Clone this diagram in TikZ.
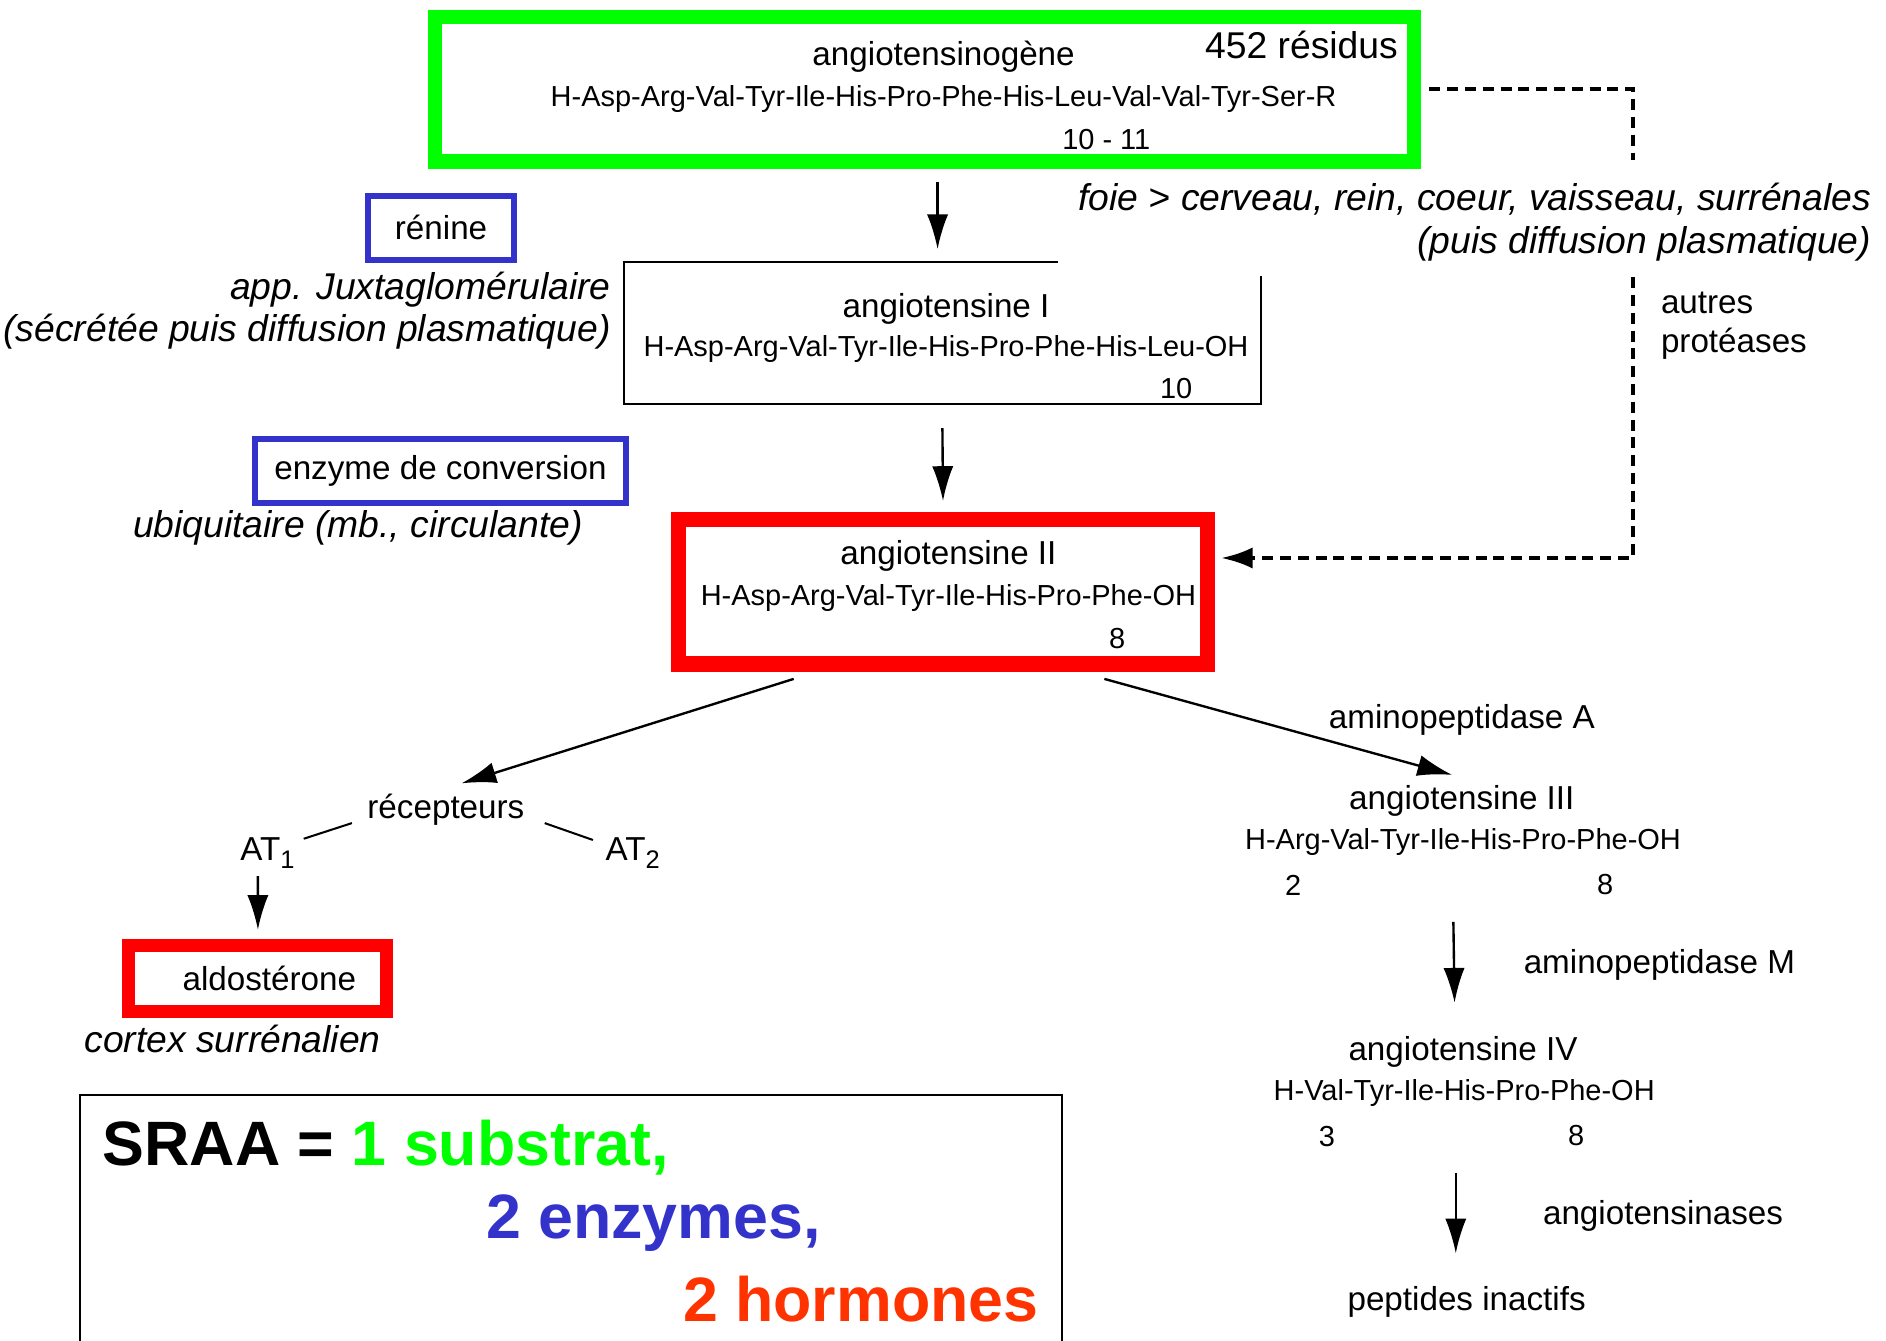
\documentclass[tikz,border=0pt]{standalone}
\usepackage{fontspec}
\setmainfont{Liberation Sans}
\usetikzlibrary{arrows.meta}
\definecolor{vert}{RGB}{0,255,0}
\definecolor{bleu}{RGB}{51,51,204}
\definecolor{rouge}{RGB}{255,0,0}
\definecolor{orangerouge}{RGB}{255,51,0}
\newcommand{\sousind}[1]{\raisebox{-0.45ex}{\fontsize{15}{15}\selectfont #1}}
\tikzset{
  ttl/.style={inner sep=0pt,font=\fontsize{19.6}{23}\selectfont},
  seq/.style={inner sep=0pt,font=\fontsize{17.1}{20}\selectfont},
  note/.style={inner sep=0pt,font=\fontsize{22}{26}\selectfont\itshape},
  big/.style={inner sep=0pt,font=\fontsize{37}{44}\selectfont\bfseries},
  arr/.style={line width=1.4pt,-{Latex[length=0.72cm,width=0.44cm]}},
  thinline/.style={line width=1.2pt},
  dashline/.style={line width=2.4pt,dash pattern=on 6.5pt off 4pt},
  greenbox/.style={draw=vert,line width=8.5pt},
  bluebox/.style={draw=bleu,line width=3.5pt},
  redbox/.style={draw=rouge,line width=9pt}}
\begin{document}
\begin{tikzpicture}[x=0.025cm,y=-0.025cm]
  \useasboundingbox (0,0) rectangle (1565,1112);
  % substrat
  \node[greenbox,minimum width=20.3cm,minimum height=3cm] (agt) at (767,74) {};
  \node[ttl] (agtname) at (783,47) {angiotensinogène};
  \node[ttl,font=\fontsize{22}{26}\selectfont] (res) at (1080,37) {452 résidus};
  \node[seq] (agtseq) at (783,82) {H-Asp-Arg-Val-Tyr-Ile-His-Pro-Phe-His-Leu-Val-Val-Tyr-Ser-R};
  \node[seq] (agtcut) at (918,116) {10 - 11};
  \node[note,anchor=east] (foie) at (1553,165) {foie > cerveau, rein, coeur, vaisseau, surrénales};
  \node[note,anchor=east] (puis) at (1553,202) {(puis diffusion plasmatique)};
  \node[ttl,anchor=west] (autres) at (1378,251) {autres};
  \node[ttl,anchor=west] (prot) at (1378,285) {protéases};
  % enzymes
  \node[bluebox,ttl,minimum width=3.025cm,minimum height=1.325cm] (ren) at (366,189) {rénine};
  \node[note,anchor=east] (juxta) at (507,240) {app. Juxtaglomérulaire};
  \node[note,anchor=east] (secr) at (507,275) {(sécrétée puis diffusion plasmatique)};
  \node[bluebox,ttl,minimum width=7.7cm,minimum height=1.325cm] (eca) at (365.5,391) {enzyme de conversion};
  \node[note] (ubiq) at (297,438) {ubiquitaire (mb., circulante)};
  % angiotensine I
  \node[minimum width=13.2cm,minimum height=2.925cm,inner sep=0pt] (angI) at (782,276.5) {};
  \draw[thinline] ([shift={(360,0)}]angI.north west) -- (angI.north west) -- (angI.south west)
    -- (angI.south east) -- ([shift={(0,11)}]angI.north east);
  \node[ttl] (angItitle) at (785,256) {angiotensine I};
  \node[seq] (angIseq) at (785,290) {H-Asp-Arg-Val-Tyr-Ile-His-Pro-Phe-His-Leu-OH};
  \node[seq] (angIn) at (976,322) {10};
  % angiotensine II
  \node[redbox,minimum width=10.975cm,minimum height=3cm] (angII) at (782.5,491) {};
  \node[ttl] (angIItitle) at (787,461) {angiotensine II};
  \node[seq] (angIIseq) at (787,496) {H-Asp-Arg-Val-Tyr-Ile-His-Pro-Phe-OH};
  \node[seq] (angIIn) at (927,530) {8};
  \draw[arr] ([shift={(11,11)}]agt.south) -- ([shift={(-4,-11)}]angI.north);
  \draw[arr] ([shift={(0,20)}]angI.south) -- ([shift={(0,-9)}]angII.north);
  \coordinate (d1) at (1355,133);
  \coordinate (d2) at (1355,230);
  \draw[dashline] ([shift={(7,0)}]agt.east) -| (d1);
  \draw[dashline,-{Latex[length=0.65cm,width=0.44cm]}] (d2) |- ([shift={(5,-28)}]angII.east);
  % recepteurs
  \node[ttl] (recep) at (370,672) {récepteurs};
  \node[ttl] (at1) at (222,708) {AT\sousind{1}};
  \node[ttl] (at2) at (525,708) {AT\sousind{2}};
  \node[redbox,ttl,line width=7.8pt,minimum width=5.35cm,minimum height=1.375cm] (aldo) at (213.5,812) {\hspace*{0.5cm}aldostérone};
  \node[note] (cortex) at (193,862) {cortex surrénalien};
  \draw[arr] ([shift={(102,6)}]angII.south west) -- ([shift={(13,-22)}]recep.center);
  \draw[thinline] ([shift={(-78,11)}]recep.center) -- ([shift={(30,-12)}]at1.center);
  \draw[thinline] ([shift={(82,11)}]recep.center) -- ([shift={(-33,-11)}]at2.center);
  \draw[arr] ([shift={(-8,19)}]at1.center) -- ([shift={(0.5,-7.5)}]aldo.north);
  % degradation
  \node[ttl] (apa) at (1213,597) {aminopeptidase A};
  \node[ttl] (ang3) at (1213,665) {angiotensine III};
  \node[seq] (ang3seq) at (1214,699) {H-Arg-Val-Tyr-Ile-His-Pro-Phe-OH};
  \node[seq] (ang3a) at (1073,735) {2};
  \node[seq] (ang3b) at (1332,734) {8};
  \node[ttl] (apm) at (1377,801) {aminopeptidase M};
  \node[ttl] (ang4) at (1214,873) {angiotensine IV};
  \node[seq] (ang4seq) at (1215,907) {H-Val-Tyr-Ile-His-Pro-Phe-OH};
  \node[seq] (ang4a) at (1101,943) {3};
  \node[seq] (ang4b) at (1308,942) {8};
  \node[ttl] (ases) at (1380,1009) {angiotensinases};
  \node[ttl] (inact) at (1217,1080) {peptides inactifs};
  \draw[arr] ([shift={(-92,6)}]angII.south east) -- ([shift={(-8,-22)}]ang3.center);
  \draw[arr] ([shift={(-8,66)}]ang3seq.center) -- ([shift={(-7,-41)}]ang4.center);
  \draw[arr] ([shift={(-7,66)}]ang4seq.center) -- ([shift={(-9,-40)}]inact.center);
  % bilan
  \draw[thinline] (66,1130) -- (66,909) -- (881,909) -- (881,1130);
  \node[big,anchor=west] (sraa) at (85,952) {SRAA = \textcolor{vert}{1 substrat,}};
  \node[big,anchor=west,text=bleu] (enz) at (403,1015) {2 enzymes,};
  \node[big,anchor=east,text=orangerouge] (horm) at (862,1078) {2 hormones};
\end{tikzpicture}
\end{document}
